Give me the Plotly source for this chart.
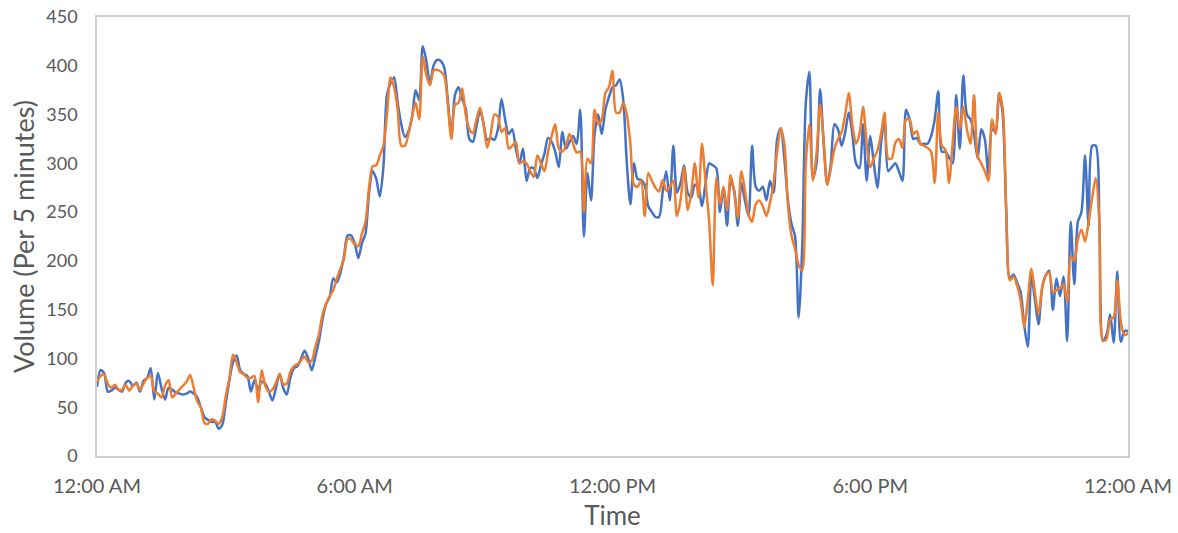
import plotly.graph_objects as go

# 5-minute intervals over one day (minutes since midnight)
minutes = list(range(0, 1441, 5))

tick_vals = [0, 360, 720, 1080, 1440]
tick_text = ["12:00 AM", "6:00 AM", "12:00 PM", "6:00 PM", "12:00 AM"]

series_blue = [
    71, 88, 85, 66, 67, 70, 68, 66, 75, 77, 72, 75,
    66, 77, 80, 90, 58, 85, 70, 58, 70, 68, 65, 64,
    63, 64, 66, 64, 60, 50, 40, 37, 35, 35, 28, 32,
    55, 78, 96, 103, 88, 84, 82, 66, 78, 68, 76, 74,
    66, 57, 70, 84, 70, 63, 80, 90, 92, 100, 108, 100,
    88, 102, 118, 140, 156, 163, 182, 178, 188, 205, 226, 226,
    218, 203, 218, 228, 270, 292, 284, 266, 296, 370, 382, 388,
    362, 340, 327, 333, 347, 375, 365, 420, 405, 382, 400, 406,
    405, 398, 365, 328, 370, 378, 366, 356, 325, 322, 338, 354,
    340, 324, 326, 324, 335, 366, 345, 330, 335, 315, 300, 315,
    282, 295, 295, 285, 298, 310, 326, 322, 312, 296, 332, 315,
    322, 328, 320, 355, 225, 290, 262, 330, 350, 330, 355, 368,
    378, 380, 386, 365, 300, 258, 300, 284, 283, 278, 256, 250,
    245, 245, 270, 292, 262, 318, 270, 280, 298, 270, 265, 278,
    275, 256, 280, 300, 298, 295, 250, 275, 236, 282, 272, 236,
    280, 262, 246, 318, 276, 272, 276, 262, 282, 270, 325, 336,
    305, 262, 238, 225, 142, 215, 362, 394, 285, 300, 376, 320,
    278, 300, 340, 335, 318, 332, 352, 330, 300, 295, 340, 282,
    328, 300, 275, 320, 345, 292, 296, 300, 292, 282, 355, 345,
    325, 326, 320, 320, 320, 328, 345, 374, 312, 312, 306, 300,
    370, 315, 390, 350, 345, 330, 305, 335, 325, 288, 335, 332,
    372, 350, 250, 182, 186, 178, 168, 135, 112, 185, 160, 135,
    172, 185, 190, 150, 182, 164, 184, 118, 240, 176, 240, 250,
    308, 236, 318, 318, 240, 118, 124, 145, 116, 189, 117, 128,
    128,
]

series_orange = [
    76, 82, 84, 74, 70, 73, 68, 68, 73, 67, 72, 74,
    68, 74, 80, 82, 66, 64, 60, 72, 78, 60, 64, 68,
    72, 76, 83, 70, 56, 50, 34, 33, 38, 36, 33, 40,
    62, 80, 104, 96, 86, 84, 80, 80, 82, 55, 88, 72,
    66, 68, 75, 84, 74, 74, 86, 92, 94, 98, 102, 96,
    98, 112, 125, 145, 156, 164, 170, 182, 192, 202, 223, 222,
    217, 215, 228, 240, 275, 297, 298, 308, 318, 350, 388, 378,
    355, 318, 318, 330, 348, 362, 345, 410, 390, 380, 395, 396,
    394, 390, 360, 325, 360, 362, 377, 350, 335, 331, 345, 357,
    340, 316, 330, 350, 348, 332, 336, 315, 318, 322, 300, 302,
    300, 292, 286, 308, 300, 292, 312, 328, 340, 315, 312, 318,
    330, 320, 311, 312, 250, 305, 300, 355, 340, 345, 372, 378,
    395, 352, 352, 362, 350, 320, 278, 276, 282, 246, 290, 282,
    275, 271, 283, 272, 276, 282, 246, 262, 296, 252, 270, 300,
    265, 320, 280, 240, 175, 285, 258, 276, 252, 288, 270, 244,
    292, 272, 248, 240, 258, 262, 256, 246, 260, 280, 312, 336,
    320, 258, 226, 212, 196, 190, 300, 340, 282, 310, 360, 322,
    278, 295, 315, 325, 332, 350, 372, 340, 320, 330, 358, 320,
    296, 305, 313, 330, 352, 305, 305, 321, 325, 316, 345, 345,
    330, 333, 320, 318, 316, 312, 280, 352, 318, 314, 280, 320,
    358, 335, 358, 335, 320, 370, 308, 300, 292, 282, 345, 330,
    372, 356, 250, 180, 184, 175, 160, 132, 160, 192, 168, 145,
    172, 185, 188, 168, 170, 172, 176, 158, 205, 200, 222, 232,
    220, 240, 265, 285, 240, 118, 120, 140, 142, 180, 138, 124,
    126,
]

blue = "#4472C4"
orange = "#ED7D31"
grey_text = "#595959"
font_family = "Lato, 'Open Sans', sans-serif"

fig = go.Figure()
fig.add_trace(go.Scatter(x=minutes, y=series_blue, mode="lines",
                         line=dict(color=blue, width=2.5, shape="spline", smoothing=0.8),
                         showlegend=False, hoverinfo="skip"))
fig.add_trace(go.Scatter(x=minutes, y=series_orange, mode="lines",
                         line=dict(color=orange, width=2.5, shape="spline", smoothing=0.8),
                         showlegend=False, hoverinfo="skip"))

fig.update_layout(
    width=1178, height=533,
    margin=dict(l=97, r=50, t=17, b=77, autoexpand=False),
    paper_bgcolor="white", plot_bgcolor="white",
    font=dict(family=font_family, color=grey_text, size=18),
)
fig.update_xaxes(
    range=[0, 1440], tickvals=tick_vals, ticktext=tick_text,
    showgrid=False, zeroline=False, automargin=False,
    showline=True, linecolor="#CFCFCF", linewidth=1.5, mirror=True,
    ticks="", ticklabelstandoff=11, ticklabeloverflow="allow",
    tickfont=dict(size=20, color=grey_text),
    title=dict(text="Time", font=dict(size=26, color=grey_text), standoff=11),
)
fig.update_yaxes(
    range=[0, 450], dtick=50,
    showgrid=False, zeroline=False, automargin=False,
    showline=True, linecolor="#CFCFCF", linewidth=1.5, mirror=True,
    ticks="", ticklabelstandoff=14, ticklabeloverflow="allow",
    tickfont=dict(size=18, color=grey_text),
    title=dict(text="Volume (Per 5 minutes)", font=dict(size=27, color=grey_text), standoff=4),
)

# remove the browser's default 8px body margin so the figure fills the window
fig.write_html(
    "out.html",
    config={"displayModeBar": False},
    post_script="document.body.style.margin='0';document.body.style.overflow='hidden';",
)
